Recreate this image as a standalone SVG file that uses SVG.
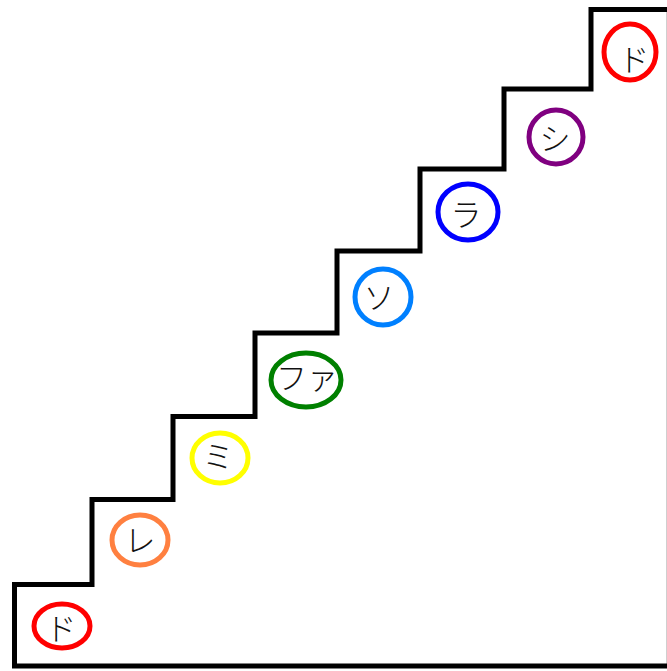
<svg xmlns="http://www.w3.org/2000/svg" width="667" height="671" viewBox="0 0 667 671">
<style>
.stair{fill:none;stroke:#000;stroke-width:5;stroke-linejoin:miter}
.note{fill:none;stroke-width:5}
.lbl{font-family:"Noto Sans CJK JP","Noto Sans",sans-serif;font-size:31px;font-weight:300;fill:#111;text-anchor:middle;dominant-baseline:central}
</style>
<rect width="667" height="671" fill="#fff"/>
<line x1="666.5" y1="9" x2="666.5" y2="666" stroke="#cfcfcf" stroke-width="1"/>
<g id="stairs">
<path class="stair" d="M667 666 H14.5 V584.5 H92 V499.5 H173 V416.5 H255 V333 H337 V251 H420 V169 H504 V89 H591 V9.5 H667"/>
</g>
<g id="do-low"><ellipse class="note" stroke="#ff0000" cx="62" cy="626" rx="28" ry="22"/><text class="lbl" x="61" y="626">ド</text></g>
<g id="re"><ellipse class="note" stroke="#ff8040" cx="140" cy="540" rx="28" ry="25"/><text class="lbl" x="140" y="538">レ</text></g>
<g id="mi"><ellipse class="note" stroke="#ffff00" cx="220" cy="458" rx="28" ry="25"/><text class="lbl" x="218" y="454">ミ</text></g>
<g id="fa"><ellipse class="note" stroke="#008000" cx="306" cy="380" rx="35" ry="27"/><text class="lbl" x="307" y="375">ファ</text></g>
<g id="so"><ellipse class="note" stroke="#0080ff" cx="383" cy="297" rx="28" ry="28"/><text class="lbl" x="379" y="295">ソ</text></g>
<g id="la"><ellipse class="note" stroke="#0000ff" cx="468" cy="212" rx="30" ry="28"/><text class="lbl" x="466" y="212">ラ</text></g>
<g id="si"><ellipse class="note" stroke="#800080" cx="556" cy="137" rx="27" ry="27"/><text class="lbl" x="555" y="136">シ</text></g>
<g id="do-high"><ellipse class="note" stroke="#ff0000" cx="630" cy="52" rx="26" ry="28"/><text class="lbl" x="634" y="57">ド</text></g>
</svg>
